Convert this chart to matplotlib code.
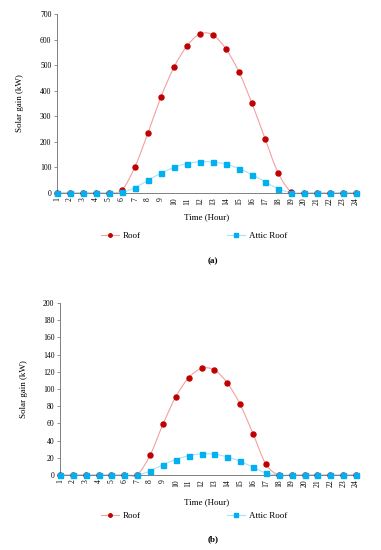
import numpy as np
import matplotlib
matplotlib.use("Agg")
import matplotlib.pyplot as plt
from matplotlib.path import Path
from matplotlib.patches import PathPatch
from matplotlib.lines import Line2D

hours = list(range(1, 25))
roof_a = [0, 0, 0, 0, 0, 12, 103, 235, 376, 492, 575, 622, 618, 563, 473, 350, 213, 80, 5, 0, 0, 0, 0, 0]
attic_a = [0, 0, 0, 0, 0, 2, 21, 50, 77, 100, 115, 122, 121, 113, 95, 72, 44, 17, 1, 0, 0, 0, 0, 0]
roof_b = [0, 0, 0, 0, 0, 0, 0.5, 23, 59, 91, 113, 124, 122, 107, 82, 48, 12.5, 0, 0, 0, 0, 0, 0, 0]
attic_b = [0, 0, 0, 0, 0, 0, 0, 4.5, 12, 18, 22.4, 24.6, 24.2, 21, 16, 9, 2.4, 0, 0, 0, 0, 0, 0, 0]
yticks_a = list(range(0, 701, 100))
yticks_b = list(range(0, 201, 20))

ROOF_M = "#C00000"
ROOF_L = "#F2A0A0"
ATT_M = "#00B0F0"
ATT_L = "#A8E2F8"
plt.rcParams['font.family'] = ['Liberation Serif', 'DejaVu Serif']

def smooth_path(x, y):
    x = np.asarray(x, float); y = np.asarray(y, float)
    verts = [(x[0], y[0])]
    codes = [Path.MOVETO]
    n = len(x)
    for i in range(n - 1):
        p0 = (x[i-1], y[i-1]) if i > 0 else (x[i], y[i])
        p1 = (x[i], y[i]); p2 = (x[i+1], y[i+1])
        p3 = (x[i+2], y[i+2]) if i + 2 < n else (x[i+1], y[i+1])
        t = 1/6
        c1 = (p1[0] + (p2[0]-p0[0])*t, p1[1] + (p2[1]-p0[1])*t)
        c2 = (p2[0] - (p3[0]-p1[0])*t, p2[1] - (p3[1]-p1[1])*t)
        verts += [c1, c2, p2]
        codes += [Path.CURVE4]*3
    return Path(verts, codes)

fig = plt.figure(figsize=(3.81, 5.5), dpi=100)
W, H = 381, 550

def make(rect, roof, attic, yticks, ymax, cap, xlabel_y, leg_y, cap_y, ylab_x):
    l, t, r, b = rect
    ax = fig.add_axes([l/W, 1-b/H, (r-l)/W, (b-t)/H])
    for y, lc, mc, mk in [(roof, ROOF_L, ROOF_M, 'o'), (attic, ATT_L, ATT_M, 's')]:
        ax.add_patch(PathPatch(smooth_path(hours, y), fill=False, edgecolor=lc, lw=0.8, zorder=2))
        ax.plot(hours, y, linestyle='none', marker=mk, ms=3.6, mfc=mc, mec=mc, zorder=3)
    ax.set_xlim(1, 24)
    ax.set_ylim(0, ymax)
    ax.set_yticks(yticks)
    ax.set_xticks(hours)
    ax.set_xticklabels([str(h) for h in hours], rotation=90)
    ax.tick_params(axis='y', labelsize=5.5, length=2, width=0.6, color='#808080', pad=2)
    ax.tick_params(axis='x', labelsize=5.5, length=0, pad=3)
    for s in ['top', 'right']:
        ax.spines[s].set_visible(False)
    for s in ['left', 'bottom']:
        ax.spines[s].set_color('#808080')
        ax.spines[s].set_linewidth(0.7)
    for art in ax.patches + ax.lines:
        art.set_clip_on(False)
    fig.text(207/W, 1-xlabel_y/H, "Time (Hour)", ha='center', va='center', fontsize=6.5)
    fig.text(ylab_x/W, 1-((t+b)/2)/H, "Solar gain (kW)", ha='center', va='center', rotation=90, fontsize=6.5)
    h1 = Line2D([], [], color=ROOF_L, lw=0.8, marker='o', ms=2.5, mfc=ROOF_M, mec=ROOF_M)
    h2 = Line2D([], [], color=ATT_L, lw=0.8, marker='s', ms=2.5, mfc=ATT_M, mec=ATT_M)
    fig.legend([h1, h2], ["Roof", "Attic Roof"], loc='center', bbox_to_anchor=(194/W, 1-leg_y/H),
               ncol=2, frameon=False, fontsize=6.5, handlelength=2.0, columnspacing=9.5, handletextpad=0.45)
    fig.text(213/W, 1-cap_y/H, cap, ha='center', va='center', fontsize=6.5, fontweight='bold')
    return ax

make((57, 14, 356, 193), roof_a, attic_a, yticks_a, 700, "(a)", 217, 236, 261, 20)
make((60, 303, 356, 475), roof_b, attic_b, yticks_b, 200, "(b)", 502, 516, 539, 24)

fig.savefig("out.png", dpi=100, facecolor='white')
